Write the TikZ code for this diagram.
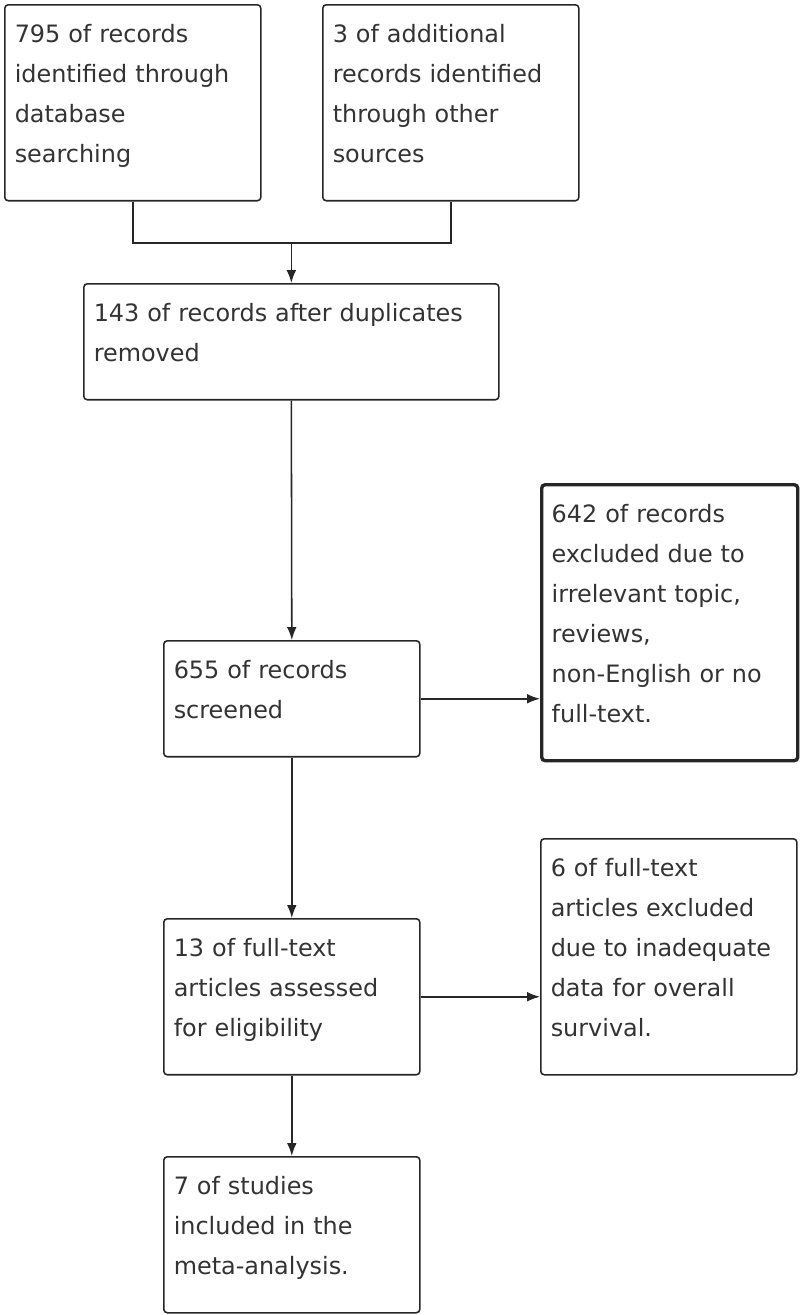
\documentclass[tikz,border=0pt]{standalone}
\usepackage{fontspec}
\setmainfont{DejaVu Sans}
\usepackage{xcolor}
\usepackage{tikz}
\usetikzlibrary{arrows.meta,positioning}

\begin{document}
\begin{tikzpicture}[
    x=0.025cm, y=-0.025cm,
    box/.style={rectangle, draw=black!85, line width=1.1pt, rounded corners=2.5pt, anchor=north west,
        text width=5.9cm, inner xsep=0.25cm, inner ysep=0.25cm, align=left, text=black!80,
        font=\fontsize{17pt}{28.45pt}\selectfont,
        execute at begin node={\rule{0pt}{19.9pt}},
        execute at end node={\rule[-19.9pt]{0pt}{1pt}}},
    widebox/.style={box, text width=9.875cm},
    boldbox/.style={box, line width=2.4pt},
    line/.style={draw=black!85, line width=1.1pt},
    arrow/.style={line, -{Latex[length=3.2mm, width=2.4mm]}}
]
    \useasboundingbox (0,0) rectangle (800,1315);

    % Identification
    \node[box] (database) at (4,4) {795 of records\\identified through\\database\\searching};
    \node[box] (other) at (322,4) {3 of additional\\records identified\\through other\\sources};
    \node[widebox] (dupl) at (83,283) {143 of records after duplicates\\removed};

    % Screening
    \node[box] (screened) at (163,640) {655 of records\\screened};
    \node[boldbox] (excl) at (540,483) {642 of records\\excluded due to\\irrelevant topic,\\reviews,\\non-English or no\\full-text.};

    % Eligibility
    \node[box] (fulltext) at (163,918) {13 of full-text\\articles assessed\\for eligibility};
    \node[box] (ftexcl) at (540,838) {6 of full-text\\articles excluded\\due to inadequate\\data for overall\\survival.};

    % Included
    \node[box] (incl) at (163,1156) {7 of studies\\included in the\\meta-analysis.};

    % Connectors
    \path (dupl.north) ++(0,-40) coordinate (merge);
    \draw[line] (database.south) |- (merge) -| (other.south);
    \draw[arrow] (merge) -- (dupl.north);
    \draw[arrow] (dupl.south) -- (screened.north);
    \draw[arrow] (screened.east) -- (screened.east -| excl.west);
    \draw[arrow] (screened.south) -- (fulltext.north);
    \draw[arrow] (fulltext.east) -- (fulltext.east -| ftexcl.west);
    \draw[arrow] (fulltext.south) -- (incl.north);
\end{tikzpicture}
\end{document}
